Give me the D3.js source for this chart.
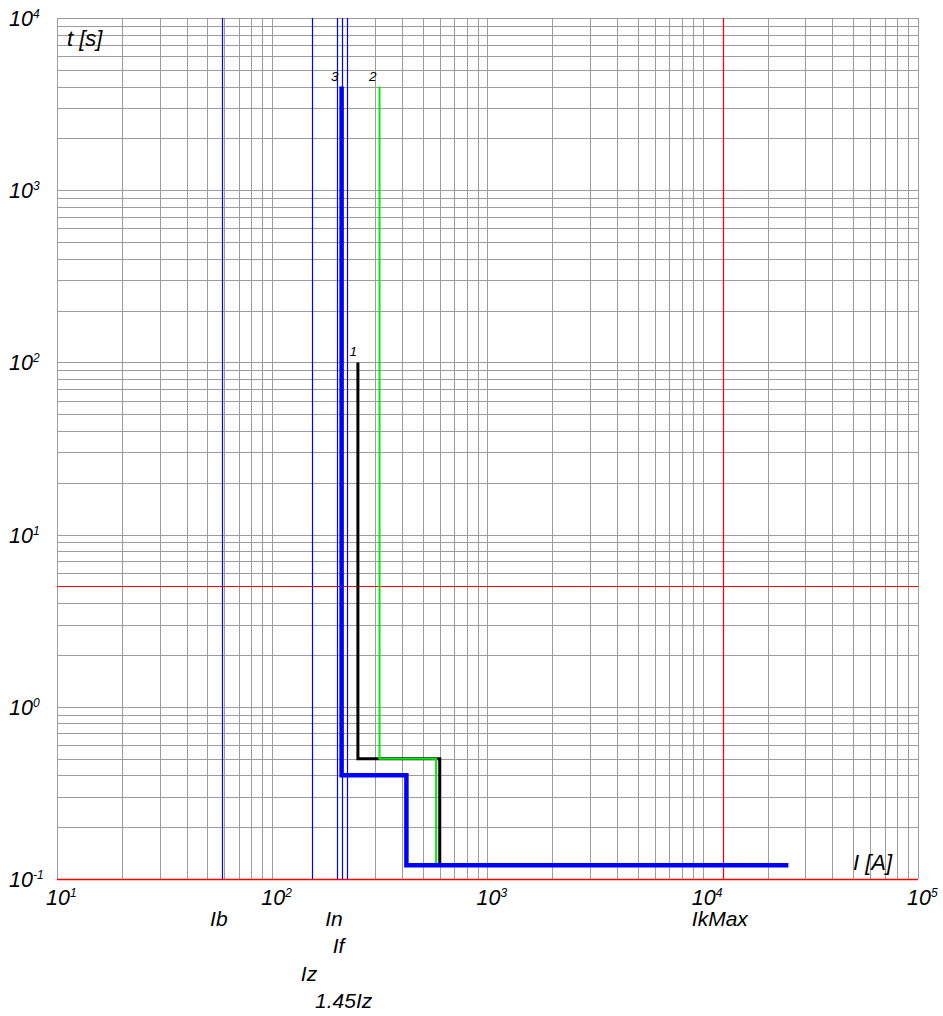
<!DOCTYPE html>
<html>
<head>
<meta charset="utf-8">
<script src="https://cdn.jsdelivr.net/npm/d3@7"></script>
<style>
  html, body { margin: 0; padding: 0; background: #fff; }
  svg { display: block; }
  text { font-family: "Liberation Sans", Arial, sans-serif; font-style: italic; fill: #000; }
</style>
</head>
<body>
<svg id="chart" width="943" height="1016"></svg>
<script>
// ---- data ----
const currentDomain = [10, 100000];      // I [A]
const timeDomain = [0.1, 10000];         // t [s]
const xTickValues = [10, 100, 1000, 10000, 100000];
const xTickExponents = ["1", "2", "3", "4", "5"];
const yTickValues = [0.1, 1, 10, 100, 1000, 10000];
const yTickExponents = ["-1", "0", "1", "2", "3", "4"];

// reference currents (vertical lines) and their labels
const refNames = ["Ib", "Iz", "In", "If", "1.45Iz", "IkMax"];
const refValues = [58.3, 153, 200, 210, 221.8, 12400];
const refRows = [0, 2, 0, 1, 3, 0];
const refColors = ["#0000ff", "#0000ff", "#0000ff", "#0000ff", "#0000ff", "#ff0000"];

// reference time (horizontal red line)
const refTime = 5;

// characteristic curves
const curve1I = [250, 250, 600, 600];
const curve1T = [100, 0.5, 0.5, 0.12];
const curve2I = [315, 315, 577, 577];
const curve2T = [4000, 0.5, 0.5, 0.12];
const curve3I = [210, 210, 420, 420, 25000];
const curve3T = [4000, 0.4, 0.4, 0.12, 0.12];
const curveNames = ["1", "2", "3"];

// ---- drawing ----
(function () {
const svg = d3.select("#chart");
const pLeft = 57, pRight = 918, pTop = 18, pBottom = 879;
const x = d3.scaleLog().domain(currentDomain).range([pLeft, pRight]);
const y = d3.scaleLog().domain(timeDomain).range([pBottom, pTop]);
const px = v => Math.round(x(v)) + 0.5;
const py = v => Math.round(y(v)) + 0.5;

// grid values (1..9 per decade)
const gridX = [];
for (let e = 1; e <= 4; e++) for (let m = 1; m <= 9; m++) gridX.push(m * Math.pow(10, e));
gridX.push(100000);
const gridY = [];
for (let e = -1; e <= 3; e++) for (let m = 1; m <= 9; m++) gridY.push(+(m * Math.pow(10, e)).toPrecision(3));
gridY.push(10000);

const grid = svg.append("g").attr("stroke", "#9c9c9c").attr("stroke-width", 1);
grid.selectAll("line.v").data(gridX).join("line").attr("class", "v")
  .attr("x1", d => px(d)).attr("x2", d => px(d)).attr("y1", pTop).attr("y2", pBottom);
grid.selectAll("line.h").data(gridY).join("line").attr("class", "h")
  .attr("x1", pLeft).attr("x2", pRight).attr("y1", d => py(d)).attr("y2", d => py(d));

// red reference lines: bottom axis line, 5 s line
svg.append("line").attr("x1", pLeft).attr("x2", pRight)
  .attr("y1", py(timeDomain[0])).attr("y2", py(timeDomain[0]))
  .attr("stroke", "#ff0000").attr("stroke-width", 1.3);
svg.append("line").attr("x1", pLeft).attr("x2", pRight)
  .attr("y1", py(refTime)).attr("y2", py(refTime))
  .attr("stroke", "#ff0000").attr("stroke-width", 1);

// vertical reference current lines
const refData = refNames.map((n, i) => ({ name: n, v: refValues[i], row: refRows[i], c: refColors[i] }));
svg.append("g").selectAll("line").data(refData).join("line")
  .attr("x1", d => px(d.v)).attr("x2", d => px(d.v)).attr("y1", pTop).attr("y2", pBottom)
  .attr("stroke", d => d.c).attr("stroke-width", 1.2);

// curves
const line = d3.line().x(d => x(d[0])).y(d => y(d[1]));
const curves = [
  { I: curve1I, T: curve1T, color: "#000000", w: 3 },
  { I: curve2I, T: curve2T, color: "#00ee00", w: 2 },
  { I: curve3I, T: curve3T, color: "#0000ff", w: 4.5 }
];
curves.forEach((c, i) => {
  const pts = c.I.map((v, k) => [v, c.T[k]]);
  svg.append("path").attr("d", line(pts)).attr("fill", "none")
    .attr("stroke", c.color).attr("stroke-width", c.w).attr("stroke-linejoin", "miter");
  svg.append("text").attr("x", x(c.I[0]) - (i === 0 ? 1 : 3)).attr("y", y(c.T[0]) - 6)
    .attr("text-anchor", "end").attr("font-size", 13.5).text(curveNames[i]);
});

// x tick labels
const xt = svg.append("g").selectAll("text").data(xTickValues).join("text")
  .attr("x", d => x(d) - 11).attr("y", 905).attr("font-size", 21.5);
xt.append("tspan").text("10");
xt.append("tspan").attr("font-size", 12).attr("dy", -8).text((d, i) => xTickExponents[i]);

// y tick labels
const yt = svg.append("g").selectAll("text").data(yTickValues).join("text")
  .attr("x", 9).attr("y", d => y(d) + 8).attr("font-size", 21.5);
yt.append("tspan").text("10");
yt.append("tspan").attr("font-size", 12).attr("dy", -8).text((d, i) => yTickExponents[i]);

// axis titles
svg.append("text").attr("x", 67).attr("y", 46).attr("font-size", 22).text("t [s]");
svg.append("text").attr("x", 853).attr("y", 870).attr("font-size", 22).text("I [A]");

// reference labels below axis
svg.append("g").selectAll("text").data(refData).join("text")
  .attr("x", d => x(d.v) - 3).attr("y", d => 926 + d.row * 27.3)
  .attr("text-anchor", "middle").attr("font-size", 21).text(d => d.name);
})();
</script>
</body>
</html>
